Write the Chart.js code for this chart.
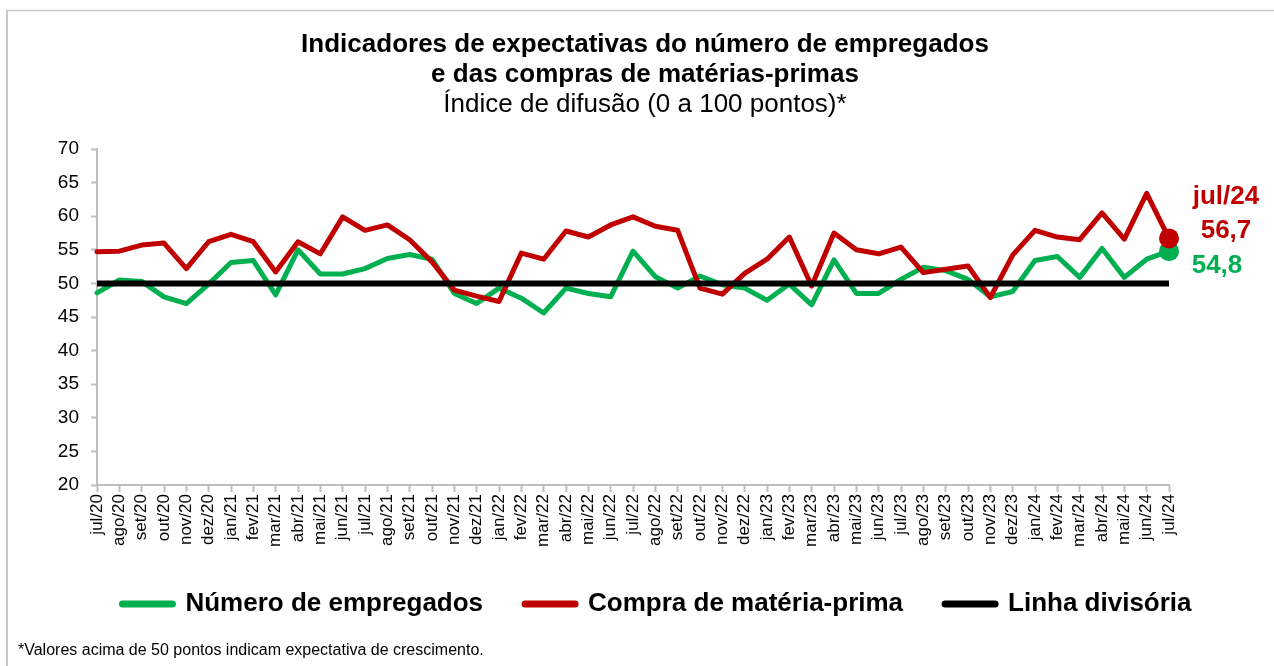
<!DOCTYPE html>
<html>
<head>
<meta charset="utf-8">
<script src="https://cdn.jsdelivr.net/npm/chart.js@4.4.1/dist/chart.umd.min.js"></script>
<style>
  html, body { margin: 0; padding: 0; background: #ffffff; }
  #wrap { position: relative; width: 1274px; height: 666px; }
</style>
</head>
<body>
<div id="wrap"><canvas id="c"></canvas></div>
<script>
const categories = [
  'jul/20','ago/20','set/20','out/20','nov/20','dez/20',
  'jan/21','fev/21','mar/21','abr/21','mai/21','jun/21','jul/21','ago/21','set/21','out/21','nov/21','dez/21',
  'jan/22','fev/22','mar/22','abr/22','mai/22','jun/22','jul/22','ago/22','set/22','out/22','nov/22','dez/22',
  'jan/23','fev/23','mar/23','abr/23','mai/23','jun/23','jul/23','ago/23','set/23','out/23','nov/23','dez/23',
  'jan/24','fev/24','mar/24','abr/24','mai/24','jun/24','jul/24'
];

const numeroEmpregados = [
  48.6, 50.5, 50.3, 48.0, 47.0, 49.9,
  53.1, 53.4, 48.3, 55.0, 51.4, 51.4, 52.2, 53.7, 54.3, 53.6, 48.5, 47.0,
  49.3, 47.8, 45.6, 49.3, 48.5, 48.0, 54.8, 51.0, 49.3, 51.1, 49.8, 49.3,
  47.5, 49.9, 46.8, 53.5, 48.5, 48.5, 50.6, 52.4, 51.9, 50.6, 48.0, 48.8,
  53.4, 54.0, 50.9, 55.2, 50.9, 53.6, 54.8
];

const compraMateriaPrima = [
  54.7, 54.8, 55.7, 56.0, 52.2, 56.2,
  57.3, 56.2, 51.7, 56.2, 54.4, 59.9, 57.9, 58.7, 56.5, 53.2, 49.0, 48.1,
  47.3, 54.5, 53.6, 57.8, 56.9, 58.7, 59.9, 58.5, 57.9, 49.3, 48.4, 51.5,
  53.6, 56.9, 49.6, 57.5, 55.0, 54.4, 55.4, 51.6, 52.1, 52.6, 47.9, 54.2,
  57.9, 56.9, 56.5, 60.5, 56.6, 63.4, 56.7
];

const linhaDivisoria = [
  50, 50, 50, 50, 50, 50,
  50, 50, 50, 50, 50, 50, 50, 50, 50, 50, 50, 50,
  50, 50, 50, 50, 50, 50, 50, 50, 50, 50, 50, 50,
  50, 50, 50, 50, 50, 50, 50, 50, 50, 50, 50, 50,
  50, 50, 50, 50, 50, 50, 50
];

const yTicks = { min: 20, max: 70, step: 5 };

const titleLines = ['Indicadores de expectativas do número de empregados', 'e das compras de matérias-primas'];
const subtitleText = 'Índice de difusão (0 a 100 pontos)*';
const footnoteText = '*Valores acima de 50 pontos indicam expectativa de crescimento.';
const lastLabel = 'jul/24';

const GREEN = '#00b050';
const RED = '#c00000';
const BLACK = '#000000';
const AXIS = '#bfbfbf';
const FONT = "'Liberation Sans', Arial, sans-serif";

Chart.defaults.font.family = FONT;
Chart.defaults.color = '#000000';

const lastIdx = categories.length - 1;
const fmt = v => v.toFixed(1).replace('.', ',');

const extrasPlugin = {
  id: 'extras',
  afterLayout(chart) {
    if (chart.legend) {
      chart.legend.left += 24;
      chart.legend.top += 1;
      chart.legend.bottom += 1;
    }
  },
  beforeDraw(chart) {
    const ctx = chart.ctx;
    ctx.save();
    ctx.fillStyle = '#ffffff';
    ctx.fillRect(0, 0, chart.width, chart.height);
    ctx.strokeStyle = '#c8c8c8';
    ctx.lineWidth = 2;
    ctx.beginPath();
    ctx.moveTo(7, chart.height);
    ctx.lineTo(7, 10.5);
    ctx.stroke();
    ctx.lineWidth = 1.5;
    ctx.beginPath();
    ctx.moveTo(6, 10.5);
    ctx.lineTo(chart.width, 10.5);
    ctx.stroke();
    ctx.restore();
  },
  afterDraw(chart) {
    const ctx = chart.ctx;
    const xs = chart.scales.x, ys = chart.scales.y;
    const px = xs.getPixelForValue(lastIdx);
    const pyRed = ys.getPixelForValue(compraMateriaPrima[lastIdx]);
    const pyGreen = ys.getPixelForValue(numeroEmpregados[lastIdx]);
    ctx.save();
    ctx.textAlign = 'center';
    ctx.textBaseline = 'middle';
    ctx.font = 'bold 26px ' + FONT;
    ctx.fillStyle = RED;
    ctx.fillText(lastLabel, px + 57, pyRed - 42);
    ctx.fillText(fmt(compraMateriaPrima[lastIdx]), px + 57, pyRed - 8);
    ctx.fillStyle = GREEN;
    ctx.fillText(fmt(numeroEmpregados[lastIdx]), px + 48, pyGreen + 15);
    ctx.font = '16px ' + FONT;
    ctx.fillStyle = '#000000';
    ctx.textAlign = 'left';
    ctx.fillText(footnoteText, 18, 651);
    ctx.restore();
  }
};

const lastPointRadius = ctx => (ctx.dataIndex === lastIdx ? 10 : 0);

new Chart(document.getElementById('c'), {
  type: 'line',
  data: {
    labels: categories,
    datasets: [
      {
        label: 'Número de empregados',
        data: numeroEmpregados,
        borderColor: GREEN,
        backgroundColor: GREEN,
        borderWidth: 5,
        borderJoinStyle: 'round',
        borderCapStyle: 'round',
        pointRadius: lastPointRadius,
        pointHoverRadius: lastPointRadius,
        pointBorderWidth: 0,
        tension: 0,
        order: 3
      },
      {
        label: 'Compra de matéria-prima',
        data: compraMateriaPrima,
        borderColor: RED,
        backgroundColor: RED,
        borderWidth: 5,
        borderJoinStyle: 'round',
        borderCapStyle: 'round',
        pointRadius: lastPointRadius,
        pointHoverRadius: lastPointRadius,
        pointBorderWidth: 0,
        tension: 0,
        order: 2
      },
      {
        label: 'Linha divisória',
        data: linhaDivisoria,
        borderColor: BLACK,
        backgroundColor: BLACK,
        borderWidth: 6,
        borderCapStyle: 'butt',
        pointRadius: 0,
        tension: 0,
        order: 1
      }
    ]
  },
  options: {
    responsive: true,
    maintainAspectRatio: false,
    devicePixelRatio: 1,
    animation: false,
    events: [],
    layout: { padding: { left: 16, right: 0, top: 0, bottom: 40 } },
    plugins: {
      title: {
        display: true,
        text: titleLines,
        font: { size: 26, weight: 'bold', lineHeight: 1.15 },
        color: '#000000',
        padding: { top: 30, bottom: 0 }
      },
      subtitle: {
        display: true,
        text: subtitleText,
        font: { size: 26, weight: 'normal', lineHeight: 1.15 },
        color: '#000000',
        padding: { top: 0, bottom: 29.3 }
      },
      legend: {
        display: true,
        position: 'bottom',
        labels: {
          usePointStyle: true,
          pointStyle: 'line',
          pointStyleWidth: 50,
          padding: 42,
          font: { size: 26, weight: 'bold' },
          color: '#000000',
          generateLabels(chart) {
            return chart.data.datasets.map((ds, i) => ({
              text: ds.label,
              fillStyle: ds.borderColor,
              strokeStyle: ds.borderColor,
              lineWidth: 7,
              lineCap: 'round',
              pointStyle: 'line',
              datasetIndex: i,
              hidden: false
            }));
          }
        }
      },
      tooltip: { enabled: false }
    },
    scales: {
      x: {
        type: 'category',
        offset: false,
        afterFit(scale) { scale.height = 63; },
        grid: {
          display: true,
          offset: false,
          drawOnChartArea: false,
          drawTicks: true,
          tickLength: 7,
          tickWidth: 2,
          tickColor: AXIS
        },
        border: { display: true, color: AXIS, width: 2 },
        ticks: {
          autoSkip: false,
          maxRotation: 90,
          minRotation: 90,
          padding: 2,
          font: { size: 17 },
          color: '#000000'
        }
      },
      y: {
        type: 'linear',
        min: yTicks.min,
        max: yTicks.max,
        afterFit(scale) { scale.width = 81; },
        grid: {
          display: true,
          drawOnChartArea: false,
          drawTicks: true,
          tickLength: 6,
          tickWidth: 2,
          tickColor: AXIS
        },
        border: { display: true, color: AXIS, width: 2 },
        ticks: {
          stepSize: yTicks.step,
          padding: 12,
          font: { size: 19 },
          color: '#000000'
        }
      },
      yRightSpace: {
        type: 'linear',
        position: 'right',
        display: true,
        afterFit(scale) { scale.width = 105; },
        grid: { display: false },
        border: { display: false },
        ticks: { display: false }
      }
    }
  },
  plugins: [extrasPlugin]
});
</script>
</body>
</html>
